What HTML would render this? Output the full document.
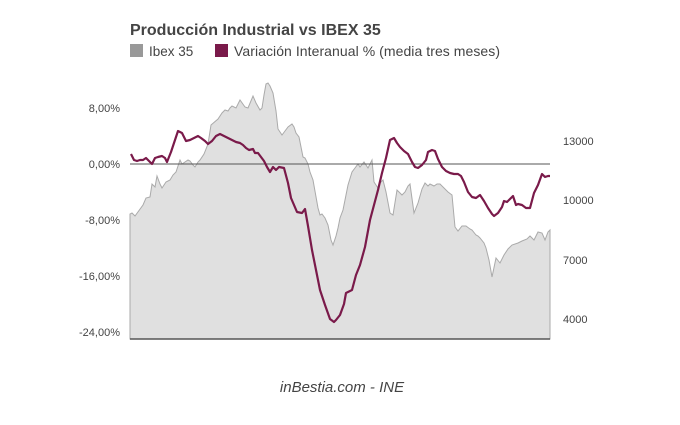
<!DOCTYPE html>
<html><head><meta charset="utf-8"><style>
body{margin:0;background:#fff;width:680px;height:420px;overflow:hidden;font-family:"Liberation Sans",sans-serif}
</style></head><body>
<svg width="680" height="420" xmlns="http://www.w3.org/2000/svg" font-family="Liberation Sans, sans-serif">
<text x="130" y="35" font-size="16" font-weight="bold" fill="#444">Producción Industrial vs IBEX 35</text>
<rect x="130" y="44" width="13" height="13" fill="#999"/>
<text x="149" y="56" font-size="13.5" fill="#444">Ibex 35</text>
<rect x="215" y="44" width="13" height="13" fill="#7a1a4a"/>
<text x="234" y="56" font-size="14" fill="#444" textLength="266">Variación Interanual % (media tres meses)</text>
<polygon fill="#e0e0e0" stroke="#aaa" stroke-width="1" points="130,339 130,214 132,213 135,216 143,205 146,198 150,197 152,184 155,187 157,176 160,184 162,188 166,182 170,180 173,175 176,172 180,160 182,164 185,162 188,160 190,161 193,165 195,167 198,162 200,160 204,154 208,144 211,125 218,119 222,113 225,110 228,111 230,108 232,106 236,108 238,104 240,100 245,107 248,108 253,96 256,103 260,110 262,108 264,95 266,84 268,83 270,86 273,93 276,111 278,129 282,135 285,131 288,127 292,124 294,127 296,133 299,137 303,157 305,158 308,164 310,172 313,180 318,208 320,215 322,214 325,218 328,225 331,240 333,245 336,236 338,228 340,218 343,210 345,200 348,185 352,172 355,168 358,164 360,167 364,162 368,168 372,160 374,182 378,188 380,183 383,180 386,192 390,213 393,215 397,190 400,193 402,195 405,192 408,186 410,184 414,213 418,203 422,189 425,183 428,186 430,184 432,185 434,186 437,184 440,184 444,188 448,192 452,195 455,227 458,231 462,226 466,226 470,229 472,230 476,235 478,236 480,238 484,243 486,248 489,260 492,277 496,258 500,263 504,255 508,249 512,245 518,243 522,241 527,239 530,236 534,240 538,232 542,233 545,240 548,232 550,230 550,339"/>
<line x1="130" y1="164" x2="550" y2="164" stroke="#555" stroke-width="1"/>
<line x1="130" y1="339" x2="550" y2="339" stroke="#555" stroke-width="1.5"/>
<polyline fill="none" stroke="#7a1a4a" stroke-width="2.2" stroke-linejoin="round" points="131,154 134,160 137,161 140,160 143,160 146,158 149,161 152,164 155,158 158,157 162,156 165,158 167,162 171,152 174,143 178,131 182,133 186,141 190,140 194,138 198,136 201,138 205,141 208,144 212,141 216,136 220,134 224,136 228,138 232,140 236,142 240,143 243,145 246,148 249,150 253,149 255,153 258,153 261,157 264,161 267,167 270,172 273,167 276,170 279,167 284,168 288,183 291,198 297,212 302,213 305,209 308,226 312,250 316,270 320,290 325,305 330,319 334,322 336,320 340,315 344,304 346,293 352,290 356,275 360,265 365,247 370,220 374,205 378,190 382,173 386,158 390,140 394,138 397,143 400,147 404,151 408,154 412,162 415,167 418,168 422,165 426,160 428,152 432,150 435,151 438,159 442,167 446,171 450,173 454,174 458,174 461,176 464,182 468,192 472,197 476,198 480,195 484,201 488,208 492,214 494,216 498,213 502,207 504,201 507,202 510,199 513,196 516,205 518,204 522,205 526,208 530,208 534,193 538,185 542,174 545,177 548,176 550,176"/>
<g font-size="11" fill="#444" text-anchor="end">
<text x="120" y="112">8,00%</text>
<text x="120" y="168">0,00%</text>
<text x="120" y="224">-8,00%</text>
<text x="120" y="280">-16,00%</text>
<text x="120" y="336">-24,00%</text>
</g>
<g font-size="11" fill="#444">
<text x="563" y="145">13000</text>
<text x="563" y="204">10000</text>
<text x="563" y="264">7000</text>
<text x="563" y="323">4000</text>
</g>
<text x="342" y="392" font-size="15" font-style="italic" fill="#444" text-anchor="middle">inBestia.com - INE</text>
</svg>
</body></html>
